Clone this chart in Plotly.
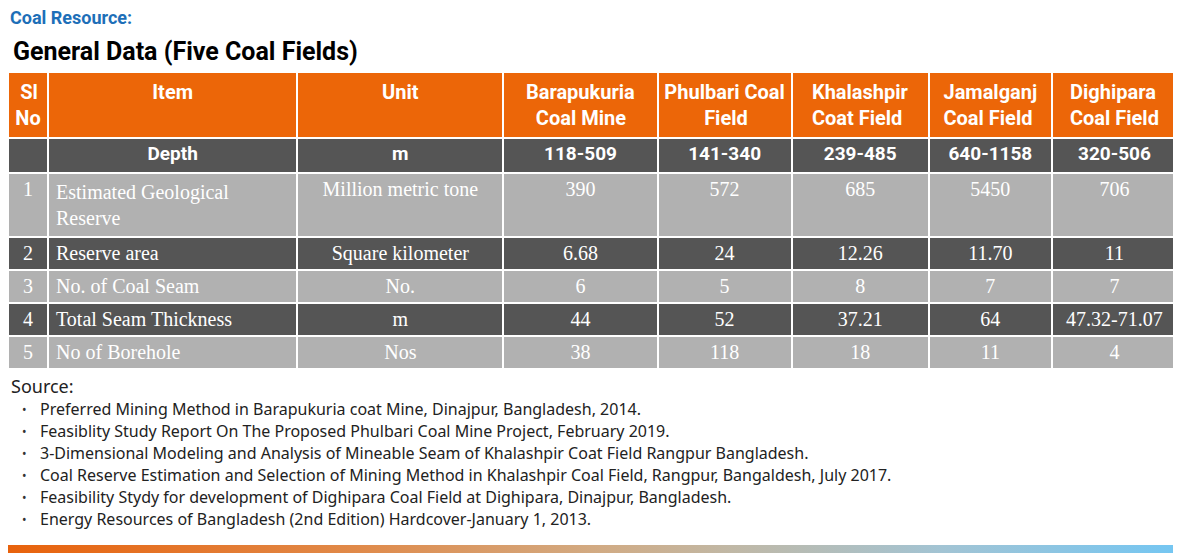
import plotly.graph_objects as go

NB = "\u00a0"  # plotly tables left-align the lines of a block, so short lines get padded

header_cols = [NB + "Sl<br>No", "Item<br> ", "Unit<br> ", "Barapukuria<br>" + NB * 2 + "Coal Mine",
               "Phulbari Coal<br>" + NB * 8 + "Field", "Khalashpir<br>Coat Field",
               "Jamalganj<br>Coal Field", "Dighipara<br>Coal Field"]
depth_row = ["", "Depth", "m", "118-509", "141-340", "239-485", "640-1158", "320-506"]

sl_no = ["1", "2", "3", "4", "5"]
items = ["Estimated Geological<br>Reserve", "Reserve area", "No. of Coal Seam",
         "Total Seam Thickness", "No of Borehole"]
units = ["Million metric tone", "Square kilometer", "No.", "m", "Nos"]
barapukuria = ["390", "6.68", "6", "44", "38"]
phulbari = ["572", "24", "5", "52", "118"]
khalashpir = ["685", "12.26", "8", "37.21", "18"]
jamalganj = ["5450", "11.70", "7", "64", "11"]
dighipara = ["706", "11", "7", "47.32-71.07", "4"]

sources = [
    "Preferred Mining Method in Barapukuria coat Mine, Dinajpur, Bangladesh, 2014.",
    "Feasiblity Study Report On The Proposed Phulbari Coal Mine Project, February 2019.",
    "3-Dimensional Modeling and Analysis of Mineable Seam of Khalashpir Coat Field Rangpur Bangladesh.",
    "Coal Reserve Estimation and Selection of Mining Method in Khalashpir Coal Field, Rangpur, Bangaldesh, July 2017.",
    "Feasibility Stydy for development of Dighipara Coal Field at Dighipara, Dinajpur, Bangladesh.",
    "Energy Resources of Bangladesh (2nd Edition) Hardcover-January 1, 2013.",
]

ORANGE = "#ec6608"
DARK = "#555555"
LIGHT = "#b1b1b1"
COND = "Roboto, sans-serif"
SERIF = "Liberation Serif, DejaVu Serif, serif"
SANS = "Noto Sans, sans-serif"
col_widths = [40, 249, 206, 154, 134, 137, 123, 125]
aligns = ["center", "left", "center", "center", "center", "center", "center", "center"]

columns = [sl_no, items, units, barapukuria, phulbari, khalashpir, jamalganj, dighipara]

# the page body has an 8px margin, so the figure is a little smaller than the window
OFF = 8
W, H = 1181 - OFF, 557 - OFF


def px_x(px):
    return max(0, (px - OFF) / W)


def px_y(px):
    return 1 - (px - OFF) / H


x_dom = [px_x(8), px_x(1177)]

fig = go.Figure()

# header + depth row
fig.add_trace(go.Table(
    domain=dict(x=x_dom, y=[px_y(175), px_y(72)]),
    columnwidth=col_widths,
    header=dict(values=header_cols, fill_color=ORANGE, line=dict(color="white", width=2),
                align="center", height=63,
                font=dict(family=COND, size=20, color="white", weight="bold")),
    cells=dict(values=[[v] for v in depth_row], fill_color=DARK, line=dict(color="white", width=2),
               align="center", height=38,
               font=dict(family=COND, size=19, color="white", weight="bold")),
))

# data rows: first row used as the "header" of the second table
row_fills = [DARK if i % 2 == 0 else LIGHT for i in range(len(sl_no) - 1)]
fig.add_trace(go.Table(
    domain=dict(x=x_dom, y=[px_y(380), px_y(173)]),
    columnwidth=col_widths,
    header=dict(values=[c[0] for c in columns], fill_color=LIGHT, line=dict(color="white", width=2),
                align=aligns, height=59,
                font=dict(family=SERIF, size=20, color="white")),
    cells=dict(values=[c[1:] for c in columns], fill_color=[row_fills] * len(columns),
               line=dict(color="white", width=2), align=aligns, height=33,
               font=dict(family=SERIF, size=20, color="white")),
))

# gradient bar at bottom
fig.add_trace(go.Scatter(
    x=[8, 1177, 1177, 8, 8], y=[545, 545, 553, 553, 545], mode="lines", line=dict(width=0),
    fill="toself", hoverinfo="skip", showlegend=False,
    fillgradient=dict(type="horizontal", colorscale=[
        [0, "#e8620c"], [0.3, "#e08a4a"], [0.5, "#d2aa82"], [0.62, "#c0b8a6"],
        [0.8, "#a2c4d4"], [1, "#74c6f2"]]),
))

fig.add_annotation(x=px_x(8), y=px_y(17), xref="paper", yref="paper", xanchor="left", yanchor="middle",
                   text="Coal Resource:", showarrow=False,
                   font=dict(family=COND, size=18, color="#1d6fb8", weight="bold"))
fig.add_annotation(x=px_x(11), y=px_y(52), xref="paper", yref="paper", xanchor="left", yanchor="middle",
                   text="General Data (Five Coal Fields)", showarrow=False,
                   font=dict(family=COND, size=25, color="black", weight="bold"))
fig.add_annotation(x=px_x(9), y=px_y(386), xref="paper", yref="paper", xanchor="left", yanchor="middle",
                   text="Source:", showarrow=False,
                   font=dict(family=SANS, size=18, color="#222"))
for i, s in enumerate(sources):
    yy = px_y(409 + 22 * i)
    fig.add_annotation(x=px_x(20), y=yy, xref="paper", yref="paper", xanchor="left", yanchor="middle",
                       text="•", showarrow=False,
                       font=dict(family=SANS, size=12, color="#333"))
    fig.add_annotation(x=px_x(38), y=yy, xref="paper", yref="paper", xanchor="left", yanchor="middle",
                       text=s, showarrow=False,
                       font=dict(family=SANS, size=16, color="#222"))

fig.update_layout(
    width=W, height=H, margin=dict(l=0, r=0, t=0, b=0),
    paper_bgcolor="white", plot_bgcolor="white",
    xaxis=dict(range=[OFF, 1181], visible=False, domain=[0, 1], fixedrange=True),
    yaxis=dict(range=[557, OFF], visible=False, domain=[0, 1], fixedrange=True),
)

fig.write_html("out.html")
